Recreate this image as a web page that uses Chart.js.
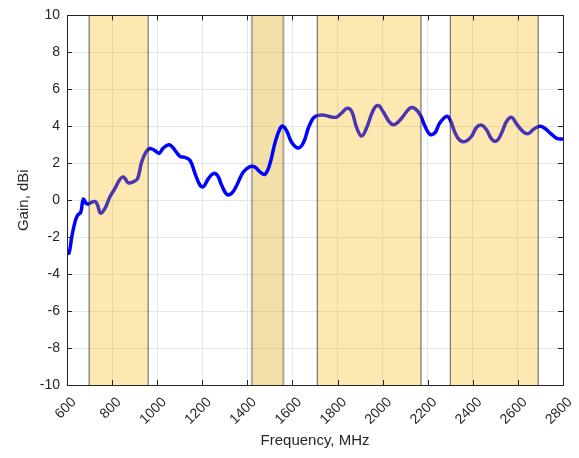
<!DOCTYPE html>
<html>
<head>
<meta charset="utf-8">
<script src="https://cdn.jsdelivr.net/npm/chart.js@4"></script>
<style>
  html, body { margin: 0; padding: 0; background: #fff; }
  #wrap { width: 579px; height: 458px; }
</style>
</head>
<body>
<div id="wrap"><canvas id="gainChart"></canvas></div>
<script>
// measured gain curve (MHz, dBi)
const freq = [600, 609, 621, 635, 646, 661, 672, 684, 695, 709, 724, 735, 749, 769, 791, 813, 832, 850, 872, 894, 913, 931, 950, 968, 990, 1009, 1027, 1054, 1079, 1101, 1123, 1146, 1168, 1190, 1205, 1227, 1249, 1267, 1286, 1308, 1330, 1353, 1382, 1412, 1434, 1456, 1478, 1500, 1523, 1545, 1559, 1575, 1597, 1626, 1649, 1671, 1693, 1715, 1744, 1774, 1796, 1818, 1843, 1863, 1885, 1907, 1929, 1959, 1981, 2003, 2033, 2055, 2085, 2121, 2144, 2166, 2188, 2210, 2232, 2254, 2284, 2299, 2321, 2343, 2368, 2395, 2417, 2439, 2462, 2484, 2506, 2528, 2550, 2572, 2594, 2624, 2646, 2668, 2698, 2720, 2750, 2772, 2800];
const gain = [-2.86, -2.86, -2.0, -1.2, -0.83, -0.65, 0.05, -0.16, -0.2, -0.12, -0.07, -0.25, -0.7, -0.43, 0.2, 0.64, 1.08, 1.26, 0.94, 1.0, 1.17, 2.06, 2.6, 2.8, 2.68, 2.54, 2.82, 3.0, 2.7, 2.37, 2.32, 2.15, 1.44, 0.81, 0.73, 1.17, 1.44, 1.35, 0.81, 0.33, 0.37, 0.81, 1.53, 1.82, 1.79, 1.53, 1.4, 1.97, 3.12, 3.88, 4.0, 3.74, 3.12, 2.82, 3.12, 3.92, 4.45, 4.59, 4.59, 4.5, 4.5, 4.72, 4.98, 4.8, 3.92, 3.47, 3.92, 4.89, 5.12, 4.77, 4.19, 4.1, 4.45, 4.98, 4.95, 4.63, 4.0, 3.56, 3.65, 4.19, 4.54, 4.36, 3.65, 3.24, 3.18, 3.47, 3.95, 4.06, 3.78, 3.3, 3.21, 3.65, 4.27, 4.48, 4.13, 3.7, 3.6, 3.83, 4.0, 3.88, 3.56, 3.35, 3.3];

// shaded frequency bands (MHz)
const bandStart = [698, 1420, 1710, 2300];
const bandEnd = [960, 1560, 2170, 2690];

const xTicks = [600, 800, 1000, 1200, 1400, 1600, 1800, 2000, 2200, 2400, 2600, 2800];
const yTicks = [-10, -8, -6, -4, -2, 0, 2, 4, 6, 8, 10];

const axisColor = "#262626";
const fontFamily = "'Liberation Sans', Arial, Helvetica, sans-serif";

const drawBand = (chart, i, fill, edge, edgeWidth) => {
    const { ctx, chartArea } = chart;
    const x = chart.scales.x;
    const x0 = x.getPixelForValue(bandStart[i]);
    const x1 = x.getPixelForValue(bandEnd[i]);
    ctx.save();
    ctx.fillStyle = fill;
    ctx.fillRect(x0, chartArea.top, x1 - x0, chartArea.bottom - chartArea.top);
    ctx.strokeStyle = edge;
    ctx.lineWidth = edgeWidth;
    ctx.beginPath();
    ctx.moveTo(x0, chartArea.top); ctx.lineTo(x0, chartArea.bottom);
    ctx.moveTo(x1, chartArea.top); ctx.lineTo(x1, chartArea.bottom);
    ctx.stroke();
    ctx.restore();
};

const bandsPlugin = {
    id: "bands",
    beforeDatasetsDraw(chart) {
        // the narrow band sits behind the trace
        drawBand(chart, 1, "rgba(222,177,37,0.4)", "rgba(120,120,120,0.6)", 2);
    },
    afterDatasetsDraw(chart) {
        [0, 2, 3].forEach(i => drawBand(chart, i, "rgba(250,180,0,0.3)", "rgba(40,40,40,0.75)", 1));
    }
};

// box round the plot with inward ticks
const boxPlugin = {
    id: "box",
    afterDraw(chart) {
        const { ctx, chartArea: a, scales } = chart;
        ctx.save();
        ctx.strokeStyle = axisColor;
        ctx.lineWidth = 1;
        ctx.strokeRect(Math.round(a.left) + 0.5, Math.round(a.top) + 0.5,
            Math.round(a.right - a.left), Math.round(a.bottom - a.top));
        ctx.beginPath();
        xTicks.forEach(v => {
            const px = Math.round(scales.x.getPixelForValue(v)) + 0.5;
            ctx.moveTo(px, a.bottom); ctx.lineTo(px, a.bottom - 5);
            ctx.moveTo(px, a.top); ctx.lineTo(px, a.top + 5);
        });
        yTicks.forEach(v => {
            const py = Math.round(scales.y.getPixelForValue(v)) + 0.5;
            ctx.moveTo(a.left, py); ctx.lineTo(a.left + 5, py);
            ctx.moveTo(a.right, py); ctx.lineTo(a.right - 5, py);
        });
        ctx.stroke();
        ctx.restore();
    }
};

const points = freq.map((f, i) => ({ x: f, y: gain[i] }));

const config = {
    type: "line",
    data: {
        datasets: [{
            data: points,
            borderColor: "#0000ff",
            borderWidth: 3.5,
            pointRadius: 0,
            tension: 0.4,
            fill: false
        }]
    },
    options: {
        responsive: true,
        maintainAspectRatio: false,
        animation: false,
        layout: { padding: { top: 9, right: 16, left: 0, bottom: 0 } },
        plugins: {
            legend: { display: false },
            tooltip: { enabled: false }
        },
        scales: {
            x: {
                type: "linear",
                min: 600,
                max: 2800,
                afterBuildTicks: s => { s.ticks = xTicks.map(v => ({ value: v })); },
                afterFit: s => {
                    s.height = 73;
                    s.paddingLeft = 0;
                    s.paddingRight = 0;
                },
                ticks: {
                    minRotation: 45,
                    maxRotation: 45,
                    padding: 9,
                    labelOffset: 7,
                    color: axisColor,
                    font: { family: fontFamily, size: 14 },
                    callback: v => String(v)
                },
                grid: { color: "#e6e6e6", drawTicks: false },
                border: { display: false },
                title: {
                    display: true,
                    text: "Frequency, MHz",
                    color: axisColor,
                    font: { family: fontFamily, size: 15 },
                    padding: 8
                }
            },
            y: {
                min: -10,
                max: 10,
                afterBuildTicks: s => { s.ticks = yTicks.map(v => ({ value: v })); },
                afterFit: s => { s.width = 67; },
                ticks: {
                    padding: 7,
                    color: axisColor,
                    font: { family: fontFamily, size: 14 },
                    callback: v => String(v)
                },
                grid: { color: "#e6e6e6", drawTicks: false },
                border: { display: false },
                title: {
                    display: true,
                    text: "Gain, dBi",
                    color: axisColor,
                    font: { family: fontFamily, size: 15 },
                    padding: 15
                }
            }
        }
    },
    plugins: [bandsPlugin, boxPlugin]
};

const ctx = document.getElementById("gainChart");
const gainChart = new Chart(ctx, config);
</script>
</body>
</html>
